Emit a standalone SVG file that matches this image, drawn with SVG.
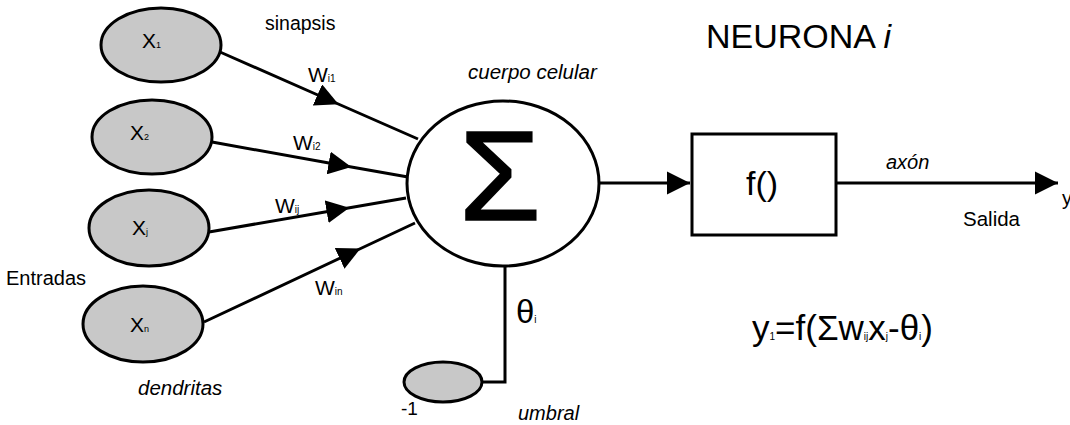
<svg xmlns="http://www.w3.org/2000/svg" width="1070" height="425" viewBox="0 0 1070 425">
<style>
.ell{fill:#c8c8c8;stroke:#000;stroke-width:3}
.ln{fill:none;stroke:#000;stroke-width:3}
.t{font-family:"Liberation Sans",Arial,sans-serif;fill:#000}
.i{font-style:italic}
</style>
<defs>
<marker id="mid" viewBox="0 0 10 10" refX="5" refY="5" markerUnits="userSpaceOnUse" markerWidth="23" markerHeight="23" orient="auto">
<path d="M0,0 L10,5 L0,10 z" fill="#000"/>
</marker>
<marker id="end" viewBox="0 0 10 10" refX="10" refY="5" markerUnits="userSpaceOnUse" markerWidth="23" markerHeight="24" orient="auto">
<path d="M0,0 L10,5 L0,10 z" fill="#000"/>
</marker>
</defs>
<rect width="1070" height="425" fill="#fff"/>
<g id="connectors">
<path class="ln" d="M220,52 L328,99.5 L418,139" marker-mid="url(#mid)"/>
<path class="ln" d="M212,142 L340,165 L408,177" marker-mid="url(#mid)"/>
<path class="ln" d="M209,232 L338,209.7 L406,198" marker-mid="url(#mid)"/>
<path class="ln" d="M204,322 L350,253.5 L415,223" marker-mid="url(#mid)"/>
<path class="ln" d="M599,183 L690,183" marker-end="url(#end)"/>
<path class="ln" d="M836,183 L1058,183" marker-end="url(#end)"/>
<path class="ln" d="M505,266 L505,382 L482,382"/>
</g>
<g id="x1"><ellipse class="ell" cx="161" cy="45" rx="60" ry="37"/><text class="t" x="142" y="48" font-size="21">X<tspan font-size="9">1</tspan></text></g>
<g id="x2"><ellipse class="ell" cx="152" cy="137" rx="60" ry="37"/><text class="t" x="130" y="140" font-size="21">X<tspan font-size="9">2</tspan></text></g>
<g id="xj"><ellipse class="ell" cx="149" cy="228" rx="60" ry="38"/><text class="t" x="132" y="235" font-size="21">X<tspan font-size="9">j</tspan></text></g>
<g id="xn"><ellipse class="ell" cx="143" cy="324" rx="60" ry="38"/><text class="t" x="130" y="332" font-size="21">X<tspan font-size="9">n</tspan></text></g>
<g id="soma"><ellipse cx="503" cy="183.5" rx="96" ry="82.5" fill="#fff" stroke="#000" stroke-width="3"/><text class="t" x="459" y="220" font-size="128" textLength="82" lengthAdjust="spacingAndGlyphs" stroke="#000" stroke-width="1.5">Σ</text></g>
<g id="umbral-node"><ellipse class="ell" cx="443" cy="382" rx="39" ry="20"/></g>
<g id="f"><rect x="692" y="134" width="144" height="101" fill="#fff" stroke="#000" stroke-width="3"/><text class="t" x="762" y="195" font-size="34" text-anchor="middle">f()</text></g>
<g id="labels">
<text class="t" x="265" y="30" font-size="19.5">sinapsis</text>
<text class="t i" x="468" y="79" font-size="20.5">cuerpo celular</text>
<text class="t" x="706" y="48" font-size="34">NEURONA <tspan class="i">i</tspan></text>
<text class="t" x="308" y="82" font-size="21">W<tspan font-size="10">i1</tspan></text>
<text class="t" x="293" y="150" font-size="21">W<tspan font-size="10">i2</tspan></text>
<text class="t" x="275" y="213" font-size="21">W<tspan font-size="10">ij</tspan></text>
<text class="t" x="315" y="295" font-size="21">W<tspan font-size="10">in</tspan></text>
<text class="t" x="6" y="285" font-size="20">Entradas</text>
<text class="t i" x="138" y="395" font-size="20.5">dendritas</text>
<text class="t" x="401" y="415" font-size="19">-1</text>
<text class="t i" x="518" y="420" font-size="20">umbral</text>
<text class="t" x="516" y="323" font-size="33">θ<tspan font-size="10">i</tspan></text>
<text class="t i" x="886" y="169" font-size="20">axón</text>
<text class="t" x="963" y="226" font-size="20.5">Salida</text>
<text class="t" x="1062" y="205" font-size="20">y</text>
<text class="t" x="752" y="340" font-size="35">y<tspan font-size="10">1</tspan>=f(Σw<tspan font-size="10">ij</tspan>x<tspan font-size="10">j</tspan>-θ<tspan font-size="10">i</tspan>)</text>
</g>
</svg>
